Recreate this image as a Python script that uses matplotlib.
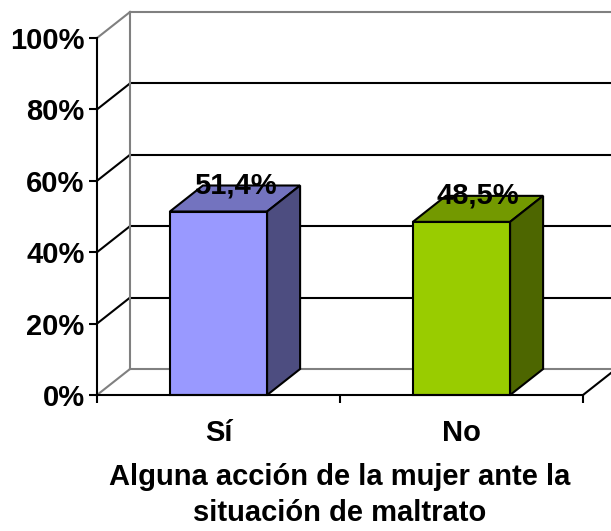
import matplotlib
matplotlib.use('Agg')
import numpy as np
import matplotlib.pyplot as plt
from matplotlib.patches import Polygon

# data
categories = ['Sí', 'No']
values = [51.4, 48.5]
labels = ['51,4%', '48,5%']
yticks = [0, 20, 40, 60, 80, 100]
ytick_labels = ['0%', '20%', '40%', '60%', '80%', '100%']
xlabel = 'Alguna acción de la mujer ante la\nsituación de maltrato'

front_colors = ['#9999FF', '#99CC00']
top_colors = ['#7373BF', '#739900']
side_colors = ['#4D4D80', '#4D6600']

plt.rcParams['font.family'] = ['Liberation Sans', 'DejaVu Sans']
plt.rcParams['font.weight'] = 'bold'
fs = 21

W, H = 611, 531
fig = plt.figure(figsize=(W / 100, H / 100), dpi=100)
ax = fig.add_axes([97 / W, 136 / H, 486 / W, 357 / H])
ax.set_xlim(0, 2)
ax.set_ylim(0, 100)

# depth offset of the 3d box (data units)
dx, dy = 33 / 243, 26 / 3.57
gray = '#808080'

# back wall + gridlines
for v in yticks:
    c = 'black' if v not in (0, 100) else gray
    ax.plot([0, dx], [v, v + dy], color=c, lw=1.5, clip_on=False, zorder=1)
    ax.plot([dx, 2 + dx], [v + dy, v + dy], color=c, lw=1.5, clip_on=False, zorder=1)
ax.plot([dx, dx], [dy, 100 + dy], color=gray, lw=1.5, clip_on=False, zorder=1)
ax.plot([2, 2 + dx], [0, dy], color='black', lw=1.5, clip_on=False, zorder=1)

# bars
bw = 0.4
for i, v in enumerate(values):
    x0 = i + 0.5 - bw / 2
    x1 = x0 + bw
    front = Polygon([(x0, 0), (x1, 0), (x1, v), (x0, v)], closed=True,
                    fc=front_colors[i], ec='black', lw=1.5, clip_on=False, zorder=3)
    top = Polygon([(x0, v), (x1, v), (x1 + dx, v + dy), (x0 + dx, v + dy)], closed=True,
                  fc=top_colors[i], ec='black', lw=1.5, clip_on=False, zorder=3)
    side = Polygon([(x1, 0), (x1 + dx, dy), (x1 + dx, v + dy), (x1, v)], closed=True,
                   fc=side_colors[i], ec='black', lw=1.5, clip_on=False, zorder=3)
    for p in (front, top, side):
        ax.add_patch(p)
    ax.text(i + 0.5 + dx / 2, v + dy, labels[i], ha='center', va='center',
            fontsize=fs, fontweight='bold', zorder=5, clip_on=False)

# axes styling
for s in ('top', 'right'):
    ax.spines[s].set_visible(False)
for s in ('left', 'bottom'):
    ax.spines[s].set_linewidth(1.5)
    ax.spines[s].set_zorder(4)
ax.set_yticks(yticks)
ax.set_yticklabels(ytick_labels)
ax.tick_params(axis='y', length=6, width=1.5, pad=3, labelsize=fs)
ax.set_xticks([0, 1, 2])
ax.set_xticklabels(['', '', ''])
ax.set_xticks([0.5, 1.5], minor=True)
ax.set_xticklabels(categories, minor=True)
ax.tick_params(axis='x', which='major', length=6, width=1.5)
ax.tick_params(axis='x', which='minor', length=0, pad=17, labelsize=fs)
ax.set_xlabel(xlabel, fontsize=fs, fontweight='bold', labelpad=12, linespacing=1.36)
ax.patch.set_alpha(0)

fig.savefig('out.png', dpi=100)
